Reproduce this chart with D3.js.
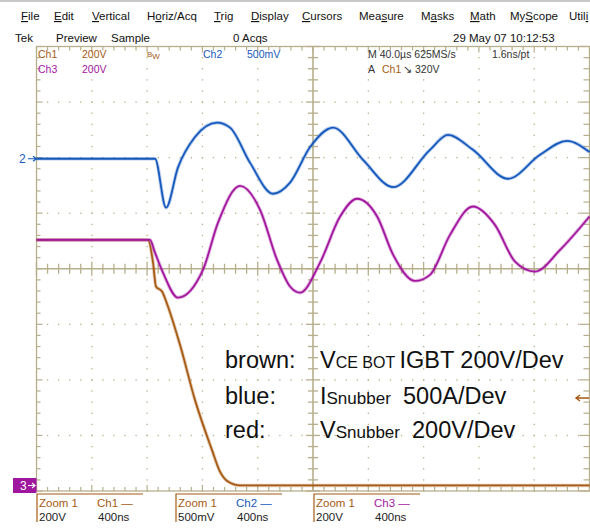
<!DOCTYPE html>
<html>
<head>
<meta charset="utf-8">
<script src="https://cdn.jsdelivr.net/npm/d3@7/dist/d3.min.js"></script>
<style>
  body { margin: 0; background: #fff; }
  text { font-family: "Liberation Sans", Arial, sans-serif; }
</style>
</head>
<body>
<svg id="scope" width="590" height="532"></svg>
<script>
// time in ns (400ns/div, 10 div), level in divisions from screen centre
var blueT = [0, 857, 937, 1023, 1146, 1306, 1400, 1544, 1711, 1834, 1979, 2145, 2362, 2580, 2846, 2976, 3157, 3410, 3642, 3837, 4000];
var blueV = [1.98, 1.98, 1.10, 1.82, 2.37, 2.63, 2.54, 1.91, 1.35, 1.55, 2.19, 2.54, 1.96, 1.47, 2.14, 2.41, 2.14, 1.62, 2.05, 2.30, 2.10];

var purpleT = [0, 821, 857, 915, 1023, 1204, 1313, 1472, 1617, 1740, 1834, 1906, 2051, 2196, 2319, 2464, 2580, 2739, 2846, 2991, 3157, 3316, 3461, 3606, 3787, 4000];
var purpleV = [0.52, 0.52, 0.29, -0.07, -0.52, -0.02, 0.83, 1.49, 1.06, 0.16, -0.32, -0.43, 0.11, 0.94, 1.26, 0.94, 0.25, -0.22, -0.11, 0.61, 1.12, 0.79, 0.13, -0.05, 0.34, 0.94];

var brownT = [0, 806, 843, 864, 908, 951, 1038, 1146, 1269, 1327, 1385, 1472, 4000];
var brownV = [0.52, 0.52, 0.11, -0.32, -0.41, -0.68, -1.37, -2.36, -3.26, -3.65, -3.83, -3.90, -3.90];

var menuItems = [["F", "ile"], ["E", "dit"], ["V", "ertical"], ["H", "o", "riz/Acq"], ["T", "rig"], ["D", "isplay"],
                 ["C", "ursors"], ["Mea", "s", "ure"], ["M", "a", "sks"], ["M", "ath"], ["My", "S", "cope"], ["Util", "i", ""]];
var menuX = [21, 54, 92, 147, 214, 251, 302, 359, 421, 470, 510, 569];

var brown = "#a65a14", blue = "#1659bd", purple = "#a3179f", grid = "#b7af8c";

var svg = d3.select("#scope");

var x = d3.scaleLinear().domain([0, 4000]).range([36.5, 589.5]);
var y = d3.scaleLinear().domain([-4, 4]).range([491, 46.5]);

// menu bar
svg.append("line").attr("x1", 0).attr("x2", 590).attr("y1", 1).attr("y2", 1)
  .attr("stroke", "#c8c8c8").attr("stroke-width", 2);

var menu = svg.append("g").attr("font-size", 11.5).attr("fill", "#111");
menuItems.forEach(function(m, i) {
  var t = menu.append("text").attr("x", menuX[i]).attr("y", 20);
  if (m.length == 2) {
    t.append("tspan").style("text-decoration", "underline").text(m[0]);
    t.append("tspan").text(m[1]);
  } else {
    t.append("tspan").text(m[0]);
    t.append("tspan").style("text-decoration", "underline").text(m[1]);
    t.append("tspan").text(m[2]);
  }
});

var row2 = svg.append("g").attr("font-size", 11.5).attr("fill", "#111");
row2.append("text").attr("x", 15).attr("y", 42).text("Tek");
row2.append("text").attr("x", 56).attr("y", 42).text("Preview");
row2.append("text").attr("x", 111).attr("y", 42).text("Sample");
row2.append("text").attr("x", 233).attr("y", 42).text("0 Acqs");
row2.append("text").attr("x", 453).attr("y", 42).text("29 May 07 10:12:53");

// graticule
var g = svg.append("g");
var majX = d3.range(0, 4001, 400), majY = d3.range(-4, 4.01, 1);
var minX = d3.range(0, 4001, 80), minY = d3.range(-4, 4.01, 0.2);

// dots on the major lines
majX.filter(function(d) { return d > 0 && d < 4000 && d != 2000; }).forEach(function(t) {
  g.selectAll(null).data(minY).enter().append("rect")
    .attr("x", x(t) - 0.6).attr("y", function(d) { return y(d) - 0.6; })
    .attr("width", 1.3).attr("height", 1.3).attr("fill", grid);
});
majY.filter(function(d) { return d > -4 && d < 4 && d != 0; }).forEach(function(v) {
  g.selectAll(null).data(minX).enter().append("rect")
    .attr("x", function(d) { return x(d) - 0.6; }).attr("y", y(v) - 0.6)
    .attr("width", 1.3).attr("height", 1.3).attr("fill", grid);
});

// border
g.append("rect").attr("x", x(0)).attr("y", y(4)).attr("width", x(4000) - x(0)).attr("height", y(-4) - y(4))
  .attr("fill", "none").attr("stroke", grid).attr("stroke-width", 1.3);

// centre cross
g.append("line").attr("x1", x(0)).attr("x2", x(4000)).attr("y1", y(0)).attr("y2", y(0))
  .attr("stroke", grid).attr("stroke-width", 1.6);
g.append("line").attr("x1", x(2000)).attr("x2", x(2000)).attr("y1", y(4)).attr("y2", y(-4))
  .attr("stroke", grid).attr("stroke-width", 1.6);

function isMajX(d) { return d % 400 == 0; }
function isMajY(d) { return Math.abs(d - Math.round(d)) < 0.01; }

// ticks on centre lines
g.selectAll(null).data(minX).enter().append("line")
  .attr("x1", function(d) { return x(d); }).attr("x2", function(d) { return x(d); })
  .attr("y1", function(d) { return y(0) - (isMajX(d) ? 7 : 5); })
  .attr("y2", function(d) { return y(0) + (isMajX(d) ? 7 : 5); })
  .attr("stroke", grid).attr("stroke-width", 1.3);
g.selectAll(null).data(minY).enter().append("line")
  .attr("y1", function(d) { return y(d); }).attr("y2", function(d) { return y(d); })
  .attr("x1", function(d) { return x(2000) - (isMajY(d) ? 7 : 5); })
  .attr("x2", function(d) { return x(2000) + (isMajY(d) ? 7 : 5); })
  .attr("stroke", grid).attr("stroke-width", 1.3);

// ticks on border
g.selectAll(null).data(minX).enter().append("line")
  .attr("x1", function(d) { return x(d); }).attr("x2", function(d) { return x(d); })
  .attr("y1", y(4)).attr("y2", function(d) { return y(4) + (isMajX(d) ? 6 : 4); })
  .attr("stroke", grid).attr("stroke-width", 1.2);
g.selectAll(null).data(minX).enter().append("line")
  .attr("x1", function(d) { return x(d); }).attr("x2", function(d) { return x(d); })
  .attr("y1", y(-4)).attr("y2", function(d) { return y(-4) - (isMajX(d) ? 6 : 4); })
  .attr("stroke", grid).attr("stroke-width", 1.2);
g.selectAll(null).data(minY).enter().append("line")
  .attr("y1", function(d) { return y(d); }).attr("y2", function(d) { return y(d); })
  .attr("x1", x(0)).attr("x2", function(d) { return x(0) + (isMajY(d) ? 6 : 4); })
  .attr("stroke", grid).attr("stroke-width", 1.2);
g.selectAll(null).data(minY).enter().append("line")
  .attr("y1", function(d) { return y(d); }).attr("y2", function(d) { return y(d); })
  .attr("x1", x(4000)).attr("x2", function(d) { return x(4000) - (isMajY(d) ? 10 : 6); })
  .attr("stroke", grid).attr("stroke-width", 1.2);

// channel readouts inside top of graticule
var ro = svg.append("g").attr("font-size", 10.5);
ro.append("text").attr("x", 38).attr("y", 58).attr("fill", brown).text("Ch1");
ro.append("text").attr("x", 82).attr("y", 58).attr("fill", brown).text("200V");
ro.append("text").attr("x", 147).attr("y", 57).attr("fill", brown).attr("font-size", 8).text("B")
  .append("tspan").attr("dy", 2).attr("font-size", 8).text("W");
ro.append("text").attr("x", 203).attr("y", 58).attr("fill", blue).text("Ch2");
ro.append("text").attr("x", 247).attr("y", 58).attr("fill", blue).text("500mV");
ro.append("text").attr("x", 38).attr("y", 73).attr("fill", purple).text("Ch3");
ro.append("text").attr("x", 82).attr("y", 73).attr("fill", purple).text("200V");
ro.append("text").attr("x", 368).attr("y", 58).attr("fill", "#333").text("M 40.0\u00b5s 625MS/s");
ro.append("text").attr("x", 492).attr("y", 58).attr("fill", "#333").text("1.6ns/pt");
ro.append("text").attr("x", 368).attr("y", 73).attr("fill", "#333").text("A");
ro.append("text").attr("x", 382).attr("y", 73).attr("fill", brown).text("Ch1");
ro.append("text").attr("x", 403).attr("y", 73).attr("fill", "#333").text("\u2198");
ro.append("text").attr("x", 415).attr("y", 73).attr("fill", "#333").text("320V");

// traces
function trace(T, V, color) {
  var pts = T.map(function(t, i) { return [t, V[i]]; });
  var line = d3.line().x(function(d) { return x(d[0]); }).y(function(d) { return y(d[1]); })
    .curve(d3.curveMonotoneX);
  svg.append("path").attr("d", line(pts)).attr("fill", "none").attr("stroke", color)
    .attr("stroke-width", 3.6).attr("stroke-opacity", 0.3).attr("stroke-linejoin", "round");
  svg.append("path").attr("d", line(pts)).attr("fill", "none").attr("stroke", color)
    .attr("stroke-width", 1.8).attr("stroke-linejoin", "round");
}
trace(brownT, brownV, brown);
trace(purpleT, purpleV, purple);
trace(blueT, blueV, blue);

// ground markers
svg.append("text").attr("x", 19).attr("y", 163).attr("font-size", 12).attr("fill", blue).text("2");
svg.append("path").attr("d", "M28," + y(1.98) + "H36.5 M33," + (y(1.98) - 2.5) + "L36.5," + y(1.98) + "L33," + (y(1.98) + 2.5))
  .attr("stroke", blue).attr("stroke-width", 1.2).attr("fill", "none");
svg.append("rect").attr("x", 13).attr("y", 478).attr("width", 23.5).attr("height", 15).attr("fill", "#a0179f");
svg.append("text").attr("x", 20).attr("y", 490).attr("font-size", 12).attr("fill", "#fff").text("3");
svg.append("path").attr("d", "M28,485.5H35 M32,483L35,485.5L32,488").attr("stroke", "#fff").attr("stroke-width", 1.1).attr("fill", "none");

// trigger level arrow
svg.append("path").attr("d", "M576,398H589 M580,395L576,398L580,401").attr("stroke", brown)
  .attr("stroke-width", 1.4).attr("fill", "none");

// annotation
var ann = svg.append("g").attr("fill", "#111");
ann.append("text").attr("x", 225).attr("y", 368).attr("font-size", 23.5).text("brown:");
var t1 = ann.append("text").attr("x", 320).attr("y", 368).attr("font-size", 23.5);
t1.append("tspan").text("V");
t1.append("tspan").attr("font-size", 16).text("CE BOT ");
t1.append("tspan").text("IGBT 200V/Dev");
ann.append("text").attr("x", 225).attr("y", 404).attr("font-size", 23.5).text("blue:");
var t2 = ann.append("text").attr("x", 320).attr("y", 404).attr("font-size", 23.5);
t2.append("tspan").text("I");
t2.append("tspan").attr("font-size", 17).text("Snubber");
t2.append("tspan").attr("x", 403).text("500A/Dev");
ann.append("text").attr("x", 225).attr("y", 438).attr("font-size", 23.5).text("red:");
var t3 = ann.append("text").attr("x", 320).attr("y", 438).attr("font-size", 23.5);
t3.append("tspan").text("V");
t3.append("tspan").attr("font-size", 17).text("Snubber");
t3.append("tspan").attr("x", 412).text("200V/Dev");

// zoom readouts below the graticule
var zoomX = [37, 176, 314];
var zoomCh = ["Ch1 \u2014", "Ch2 \u2014", "Ch3 \u2014"];
var zoomChColor = [brown, blue, purple];
var zoomScale = ["200V", "500mV", "200V"];
var zoomTime = ["400ns", "400ns", "400ns"];
zoomX.forEach(function(zx, i) {
  svg.append("path").attr("d", "M" + zx + ",522V494H" + (zx + 106)).attr("stroke", brown)
    .attr("stroke-width", 1.2).attr("fill", "none");
  svg.append("text").attr("x", zx + 2).attr("y", 507).attr("font-size", 11.5).attr("fill", brown).text("Zoom 1");
  svg.append("text").attr("x", zx + 60).attr("y", 507).attr("font-size", 11.5).attr("fill", zoomChColor[i]).text(zoomCh[i]);
  svg.append("text").attr("x", zx + 2).attr("y", 521).attr("font-size", 11.5).attr("fill", "#222").text(zoomScale[i]);
  svg.append("text").attr("x", zx + 61).attr("y", 521).attr("font-size", 11.5).attr("fill", "#222").text(zoomTime[i]);
});
</script>
</body>
</html>
